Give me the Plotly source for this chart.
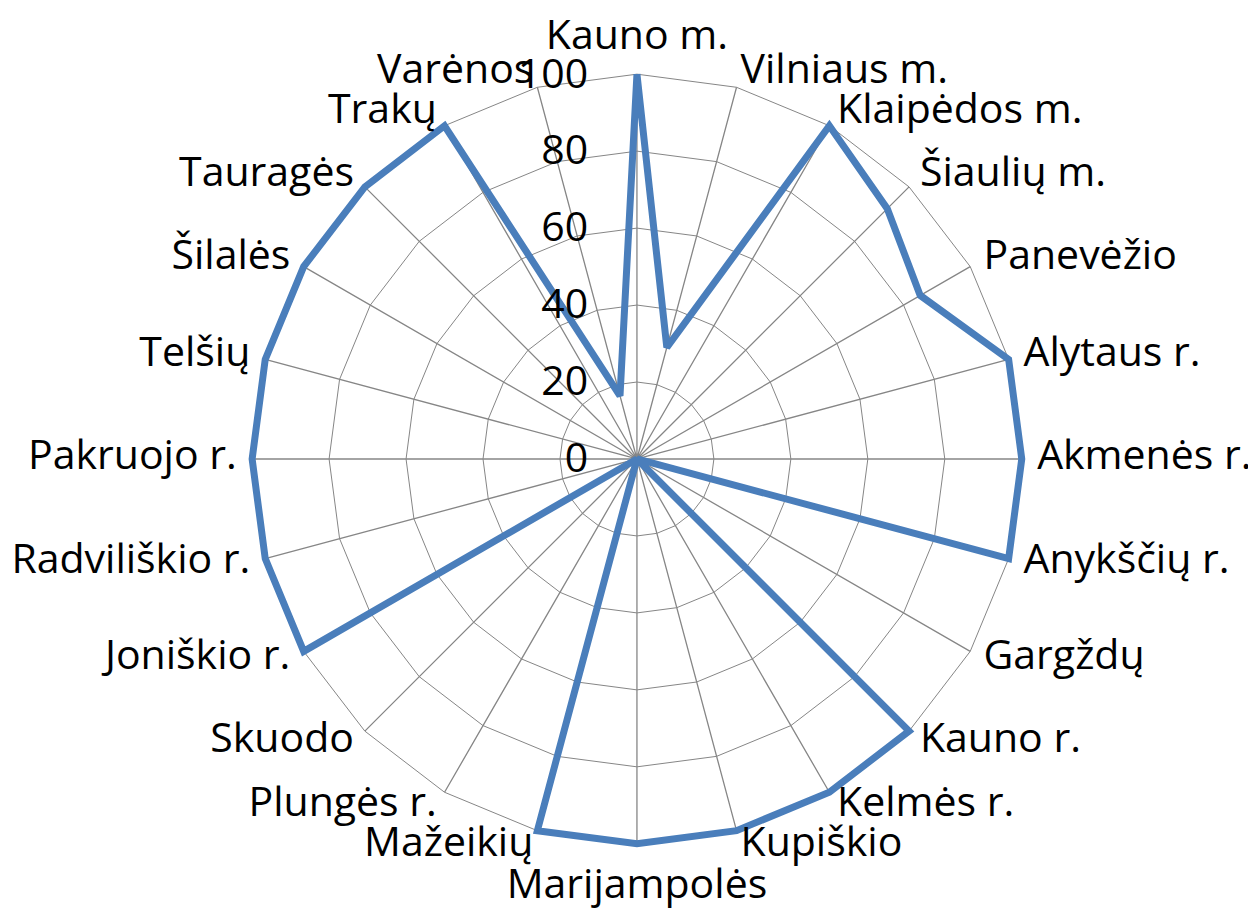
import plotly.graph_objects as go

categories = [
    "Kauno m.", "Vilniaus m.", "Klaipėdos m.", "Šiaulių m.", "Panevėžio",
    "Alytaus r.", "Akmenės r.", "Anykščių r.", "Gargždų", "Kauno r.",
    "Kelmės r.", "Kupiškio", "Marijampolės", "Mažeikių", "Plungės r.",
    "Skuodo", "Joniškio r.", "Radviliškio r.", "Pakruojo r.", "Telšių",
    "Šilalės", "Tauragės", "Trakų", "Varėnos",
]
values = [
    100, 30, 100, 92, 85,
    100, 100, 100, 0, 100,
    100, 100, 100, 100, 0,
    0, 100, 100, 100, 100,
    100, 100, 100, 17,
]
radial_ticks = [0, 20, 40, 60, 80, 100]

FONT = "Open Sans, Lato, sans-serif"
FONT_SIZE = 41
GRID = "#868686"
LABEL_R = 104
R_MAX = 112


def _label_position(i, n):
    # Excel style: top label above, bottom label below, others beside the spoke
    angle = i * 360 / n
    if angle == 0:
        return "top center", LABEL_R
    if angle == 180:
        return "bottom center", LABEL_R + 2
    return ("middle right" if angle < 180 else "middle left"), LABEL_R


label_pos = [_label_position(i, len(categories)) for i in range(len(categories))]

# spokes only run out to the last gridline, like Excel
spoke_r = []
spoke_theta = []
for cat in categories:
    spoke_r += [0, radial_ticks[-1]]
    spoke_theta += [cat, cat]

fig = go.Figure()
fig.add_trace(
    go.Scatterpolar(
        r=spoke_r,
        theta=spoke_theta,
        mode="lines",
        line={"color": GRID, "width": 1.3},
        showlegend=False,
        hoverinfo="skip",
    )
)
fig.add_trace(
    go.Scatterpolar(
        r=values + values[:1],
        theta=categories + categories[:1],
        mode="lines",
        line={"color": "#4A7EBB", "width": 7},
        showlegend=False,
        hoverinfo="skip",
    )
)
fig.add_trace(
    go.Scatterpolar(
        r=[p[1] for p in label_pos],
        theta=categories,
        mode="text",
        text=categories,
        textposition=[p[0] for p in label_pos],
        textfont={"family": FONT, "size": FONT_SIZE, "color": "black"},
        cliponaxis=False,
        showlegend=False,
        hoverinfo="skip",
    )
)

fig.update_layout(
    width=1256,
    height=911,
    margin={"l": 0, "r": 0, "t": 0, "b": 0},
    paper_bgcolor="white",
    plot_bgcolor="white",
    font={"family": FONT, "size": FONT_SIZE, "color": "black"},
    polar={
        "domain": {"x": [0.1576, 0.8439], "y": [0.0318, 0.9781]},
        "bgcolor": "rgba(0,0,0,0)",
        "gridshape": "linear",
        "angularaxis": {
            "rotation": 90,
            "direction": "clockwise",
            "showline": False,
            "showgrid": False,
            "ticks": "",
            "showticklabels": False,
        },
        "radialaxis": {
            "range": [0, R_MAX],
            "tickvals": radial_ticks,
            "angle": 90,
            "tickangle": 90,
            "side": "counterclockwise",
            "showline": False,
            "gridcolor": GRID,
            "gridwidth": 1.3,
            "ticks": "outside",
            "ticklen": 34,
            "tickcolor": "rgba(0,0,0,0)",
            "tickfont": {"family": FONT, "size": FONT_SIZE, "color": "black"},
        },
    },
)

fig.write_html("out.html")
